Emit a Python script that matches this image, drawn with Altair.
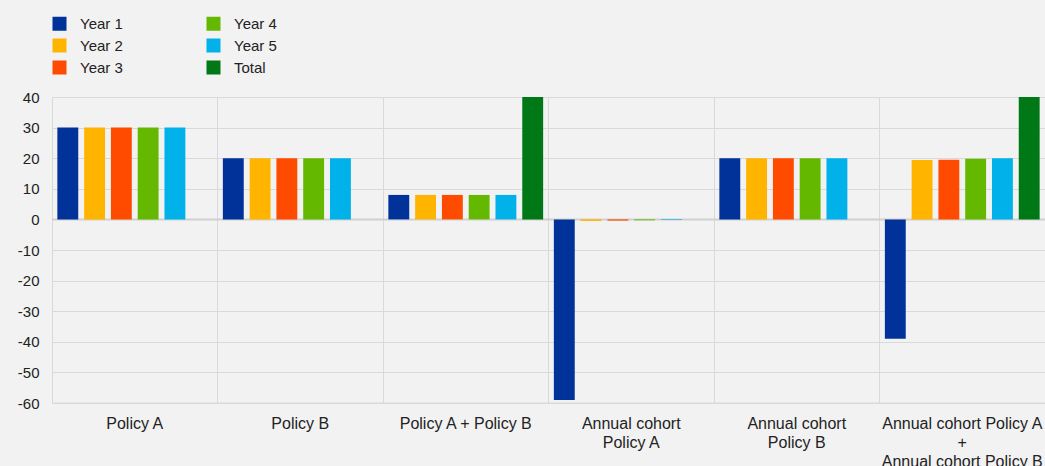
import altair as alt
import pandas as pd

categories = [
    "Policy A",
    "Policy B",
    "Policy A + Policy B",
    "Annual cohort\nPolicy A",
    "Annual cohort\nPolicy B",
    "Annual cohort Policy A\n+\nAnnual cohort Policy B",
]
series = ["Year 1", "Year 2", "Year 3", "Year 4", "Year 5", "Total"]
colors = ["#003299", "#FFB400", "#FF4B00", "#65B800", "#00B1EA", "#007816"]

year1 = [30, 20, 8, -59, 20, -39]
year2 = [30, 20, 8, -0.5, 20, 19.4]
year3 = [30, 20, 8, -0.4, 20, 19.5]
year4 = [30, 20, 8, -0.3, 20, 19.8]
year5 = [30, 20, 8, -0.2, 20, 20]
total = [None, None, 40, None, None, 40]
y_ticks = [-60, -50, -40, -30, -20, -10, 0, 10, 20, 30, 40]

rows = []
for s, vals in zip(series, [year1, year2, year3, year4, year5, total]):
    for c, v in zip(categories, vals):
        if v is not None:
            rows.append({"category": c, "series": s, "value": v})
df = pd.DataFrame(rows)

font = "Liberation Sans"
yscale = alt.Scale(domain=[-60, 40], nice=False)
yaxis = alt.Axis(
    values=y_ticks,
    labelExpr="datum.value + ''",
    labelOverlap=False,
    labelFontSize=15,
    labelFont=font,
    labelColor="#222222",
    labelPadding=13,
    ticks=False,
    domain=False,
    gridColor="#d9d9d9",
)

bars = alt.Chart(df).mark_bar(clip=True).encode(
    x=alt.X(
        "category:N",
        sort=categories,
        title=None,
        scale=alt.Scale(paddingInner=0, paddingOuter=0),
        axis=alt.Axis(
            labelExpr="split(datum.label, '\\n')",
            labelAngle=0,
            labelFontSize=16,
            labelFont=font,
            labelColor="#222222",
            labelLineHeight=19,
            labelPadding=12,
            labelLimit=400,
            labelOverlap=False,
            ticks=False,
            domain=False,
            grid=True,
            gridColor="#d9d9d9",
            bandPosition=0,
        ),
    ),
    xOffset=alt.XOffset(
        "series:N",
        scale=alt.Scale(domain=series, paddingInner=0.22, paddingOuter=0.2),
    ),
    y=alt.Y("value:Q", title=None, scale=yscale, axis=yaxis),
    color=alt.Color(
        "series:N",
        scale=alt.Scale(domain=series, range=colors),
        legend=alt.Legend(
            title=None,
            orient="none",
            legendX=0,
            legendY=-81,
            columns=2,
            columnPadding=83,
            rowPadding=6,
            symbolType="square",
            symbolSize=196,
            symbolStrokeWidth=0,
            labelFontSize=15,
            labelFont=font,
            labelColor="#222222",
            labelOffset=13,
            padding=0,
        ),
    ),
)

zero = alt.Chart(pd.DataFrame({"y": [0]})).mark_rule(color="#d0d0d0", strokeWidth=2).encode(
    y=alt.Y("y:Q", title=None, scale=yscale, axis=yaxis)
)

bottom_line = alt.Chart(pd.DataFrame({"y": [-60]})).mark_rule(color="#d9d9d9", strokeWidth=1).encode(
    y=alt.Y("y:Q", title=None, scale=yscale, axis=yaxis)
)

chart = alt.layer(zero, bottom_line, bars).properties(
    width=993,
    height=306,
    background="#f2f2f2",
    padding={"left": 52, "top": 97, "right": 0, "bottom": 63},
    autosize=alt.AutoSizeParams(type="none"),
).configure_view(stroke=None)

chart.save("out.html", embed_options={"renderer": "svg", "actions": False})
